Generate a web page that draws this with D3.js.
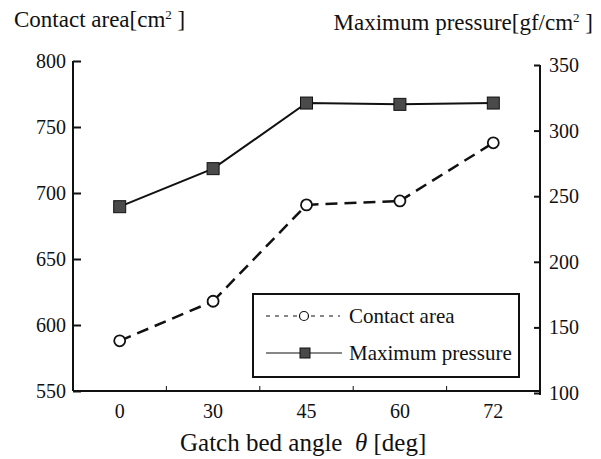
<!DOCTYPE html>
<html>
<head>
<meta charset="utf-8">
<script src="https://cdn.jsdelivr.net/npm/d3@7"></script>
<style>
  body { margin: 0; background: #fff; }
</style>
</head>
<body>
<svg id="chart" width="601" height="459"></svg>
<script>
const angles = ["0", "30", "45", "60", "72"];
const contactArea = [588, 618, 691, 694, 738];
const maxPressure = [242, 271, 321, 320, 321];
const leftTicks = [550, 600, 650, 700, 750, 800];
const rightTicks = [100, 150, 200, 250, 300, 350];

const serif = "'Liberation Serif', 'Times New Roman', serif";

let svg = d3.select("#chart");

let x = d3.scaleBand()
    .domain(angles)
    .range([73, 540])
    .padding(0);

let yLeft = d3.scaleLinear()
    .domain([550, 800])
    .range([391, 61]);

let yRight = d3.scaleLinear()
    .domain([100, 350])
    .range([393, 65]);

let cx = d => x(d) + x.bandwidth() / 2;

// axes
let left = svg.append("g")
    .attr("transform", "translate(73,0)")
    .call(d3.axisRight(yLeft).tickValues(leftTicks).tickSize(8).tickFormat(""));
left.select(".domain").attr("d", "M0,61V391");

svg.append("g").selectAll("text")
    .data(leftTicks)
    .join("text")
    .attr("x", 66)
    .attr("y", d => yLeft(d))
    .attr("dy", "0.35em")
    .attr("text-anchor", "end")
    .style("font-size", "20px")
    .text(d => d);

let right = svg.append("g")
    .attr("transform", "translate(540,0)")
    .call(d3.axisLeft(yRight).tickValues(rightTicks).tickSize(6).tickFormat(""));
right.select(".domain").attr("d", "M0,65V395");

svg.append("g").selectAll("text")
    .data(rightTicks)
    .join("text")
    .attr("x", 549)
    .attr("y", d => yRight(d))
    .attr("dy", "0.35em")
    .style("font-size", "20px")
    .text(d => d);

let bottom = svg.append("g")
    .attr("transform", "translate(0,391)")
    .call(d3.axisTop(x).tickValues([]).tickSizeOuter(0));
bottom.select(".domain").attr("d", "M73,0H540");
bottom.selectAll(".minor")
    .data(angles.slice(1))
    .join("line")
    .attr("x1", d => x(d))
    .attr("x2", d => x(d))
    .attr("y1", 0)
    .attr("y2", -5)
    .attr("stroke", "#111");

svg.selectAll(".domain, .tick line")
    .attr("stroke", "#111")
    .attr("stroke-width", 2);

svg.append("g").selectAll("text")
    .data(angles)
    .join("text")
    .attr("x", d => cx(d))
    .attr("y", 411)
    .attr("dy", "0.35em")
    .attr("text-anchor", "middle")
    .style("font-size", "20px")
    .text(d => d);

// axis titles
svg.append("text")
    .attr("x", 14)
    .attr("y", 27)
    .style("font-size", "23px")
    .html("Contact area[cm<tspan dy='-8' font-size='13px'>2</tspan><tspan dy='8'> ]</tspan>");

svg.append("text")
    .attr("x", 593)
    .attr("y", 30)
    .attr("text-anchor", "end")
    .style("font-size", "23px")
    .html("Maximum pressure[gf/cm<tspan dy='-8' font-size='13px'>2</tspan><tspan dy='8'> ]</tspan>");

svg.append("text")
    .attr("x", 180)
    .attr("y", 451)
    .style("font-size", "25px")
    .html("Gatch bed angle&#160;&#160;<tspan font-style='italic'>θ</tspan> [deg]");

// lines
let lineRight = d3.line()
    .x((d, i) => cx(angles[i]))
    .y(d => yRight(d));

svg.append("path")
    .datum(maxPressure)
    .attr("d", lineRight)
    .attr("fill", "none")
    .attr("stroke", "#111")
    .attr("stroke-width", 2);

// dashed contact-area line, one segment per pair so each starts at a marker
let areaPts = contactArea.map((d, i) => [cx(angles[i]), yLeft(d)]);
svg.append("g").selectAll("path")
    .data(d3.pairs(areaPts))
    .join("path")
    .attr("d", d => d3.line()(d))
    .attr("fill", "none")
    .attr("stroke", "#111")
    .attr("stroke-width", 2.5)
    .attr("stroke-dasharray", "12,7");

svg.append("g").selectAll("rect")
    .data(maxPressure)
    .join("rect")
    .attr("x", (d, i) => cx(angles[i]) - 6)
    .attr("y", d => yRight(d) - 6)
    .attr("width", 12)
    .attr("height", 12)
    .attr("fill", "#4a4a4a")
    .attr("stroke", "#111")
    .attr("stroke-width", 1);

svg.append("g").selectAll("circle")
    .data(contactArea)
    .join("circle")
    .attr("cx", (d, i) => cx(angles[i]))
    .attr("cy", d => yLeft(d))
    .attr("r", 5.5)
    .attr("fill", "#fff")
    .attr("stroke", "#111")
    .attr("stroke-width", 1.8);

// legend
let legend = svg.append("g");
legend.append("rect")
    .attr("x", 253)
    .attr("y", 294)
    .attr("width", 266)
    .attr("height", 83)
    .attr("fill", "#fff")
    .attr("stroke", "#111")
    .attr("stroke-width", 2);

legend.append("line")
    .attr("x1", 266).attr("x2", 340)
    .attr("y1", 316).attr("y2", 316)
    .attr("stroke", "#111")
    .attr("stroke-width", 1.2)
    .attr("stroke-dasharray", "4,5");
legend.append("circle")
    .attr("cx", 304).attr("cy", 316).attr("r", 4.5)
    .attr("fill", "#fff").attr("stroke", "#111").attr("stroke-width", 1.2);
legend.append("text")
    .attr("x", 349).attr("y", 316).attr("dy", "0.35em")
    .style("font-size", "21px")
    .text("Contact area");

legend.append("line")
    .attr("x1", 266).attr("x2", 342)
    .attr("y1", 353).attr("y2", 353)
    .attr("stroke", "#111")
    .attr("stroke-width", 1.2);
legend.append("rect")
    .attr("x", 300).attr("y", 348).attr("width", 10).attr("height", 10)
    .attr("fill", "#4a4a4a").attr("stroke", "#111").attr("stroke-width", 1);
legend.append("text")
    .attr("x", 349).attr("y", 353).attr("dy", "0.35em")
    .style("font-size", "21px")
    .text("Maximum pressure");

// all text in one serif face
svg.selectAll("text")
    .style("font-family", serif)
    .attr("fill", "#111");
</script>
</body>
</html>
